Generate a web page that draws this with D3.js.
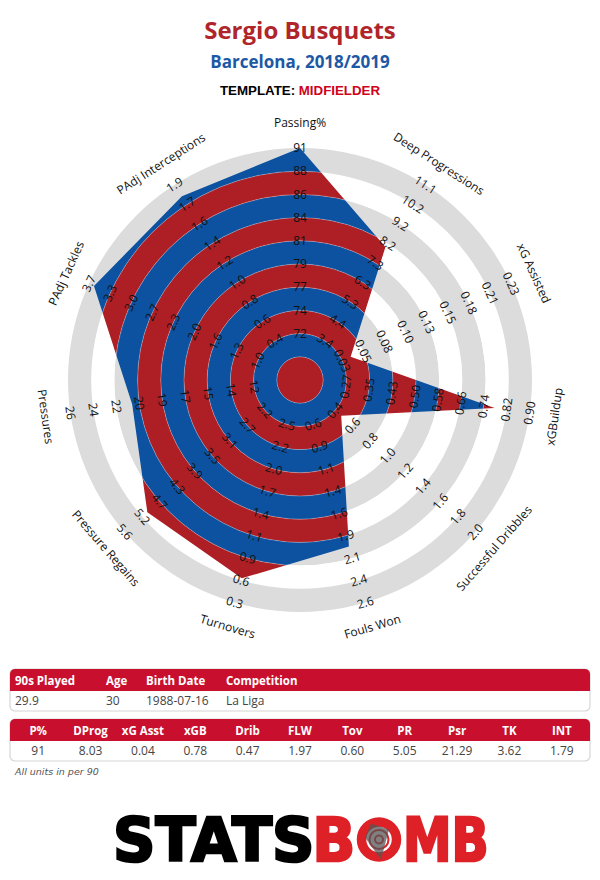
<!DOCTYPE html>
<html>
<head>
<meta charset="utf-8">
<script src="https://cdn.jsdelivr.net/npm/d3@7"></script>
<style>
  body { margin: 0; background: #fff; }
  svg { display: block; font-family: "Open Sans", sans-serif; }
</style>
</head>
<body>
<svg id="chart" width="600" height="880"></svg>
<script>
// radar metrics, clockwise from the top
var metrics = ["Passing%", "Deep Progressions", "xG Assisted", "xGBuildup", "Successful Dribbles",
  "Fouls Won", "Turnovers", "Pressure Regains", "Pressures", "PAdj Tackles", "PAdj Interceptions"];

// tick labels per metric, inner ring to outer ring
var tickLabels = [
  ["72", "74", "77", "79", "81", "84", "86", "88", "91"],
  ["3.4", "4.4", "5.3", "6.3", "7.3", "8.2", "9.2", "10.2", "11.1"],
  ["0.03", "0.05", "0.08", "0.10", "0.13", "0.15", "0.18", "0.21", "0.23"],
  ["0.27", "0.35", "0.43", "0.50", "0.58", "0.66", "0.74", "0.82", "0.90"],
  ["0.4", "0.6", "0.8", "1.0", "1.2", "1.4", "1.6", "1.8", "2.0"],
  ["0.6", "0.9", "1.1", "1.4", "1.6", "1.9", "2.1", "2.4", "2.6"],
  ["2.5", "2.2", "2.0", "1.7", "1.4", "1.1", "0.9", "0.6", "0.3"],
  ["2.2", "2.7", "3.1", "3.5", "3.9", "4.3", "4.7", "5.2", "5.6"],
  ["12", "14", "15", "17", "19", "20", "22", "24", "26"],
  ["1.0", "1.3", "1.6", "2.0", "2.3", "2.7", "3.0", "3.3", "3.7"],
  ["0.4", "0.6", "0.8", "1.0", "1.2", "1.4", "1.6", "1.7", "1.9"]
];

// table data
var infoHeaders = ["90s Played", "Age", "Birth Date", "Competition"];
var infoValues = ["29.9", "30", "1988-07-16", "La Liga"];
var statHeaders = ["P%", "DProg", "xG Asst", "xGB", "Drib", "FLW", "Tov", "PR", "Psr", "TK", "INT"];
var statValues = ["91", "8.03", "0.04", "0.78", "0.47", "1.97", "0.60", "5.05", "21.29", "3.62", "1.79"];

var red = "#ad1f24", blue = "#0c52a0", ringGrey = "#dcdcdc", tableRed = "#c8102e";

var svg = d3.select("#chart");

svg.append("rect").attr("width", 600).attr("height", 880).attr("fill", "white");

// titles
svg.append("text")
  .attr("x", 300).attr("y", 39)
  .attr("text-anchor", "middle")
  .style("font-size", "24px").style("font-weight", "bold")
  .style("fill", "#b0252a")
  .text("Sergio Busquets");

svg.append("text")
  .attr("x", 300).attr("y", 68)
  .attr("text-anchor", "middle")
  .style("font-size", "17px").style("font-weight", "bold")
  .style("fill", "#1d58a5")
  .text("Barcelona, 2018/2019");

var tmpl = svg.append("text")
  .attr("x", 300).attr("y", 95)
  .attr("text-anchor", "middle")
  .style("font-family", "'Liberation Sans', Arial, sans-serif")
  .style("font-size", "13.3px").style("font-weight", "bold");
tmpl.append("tspan").style("fill", "#000").text("TEMPLATE: ");
tmpl.append("tspan").style("fill", "#d0021b").text("MIDFIELDER");

//////////////////////////// radar ////////////////////////////
var cx = 300, cy = 380, band = 23.2, nRings = 10;
var step = 2 * Math.PI / metrics.length;

var scales = tickLabels.map(function(t) {
  return d3.scaleLinear()
    .domain([+t[0], +t[t.length - 1]])
    .range([2 * band, nRings * band]);
});

var radar = svg.append("g").attr("transform", "translate(" + cx + "," + cy + ")");

var ringArc = d3.arc()
  .innerRadius(function(k) { return (k - 1) * band; })
  .outerRadius(function(k) { return k * band; })
  .startAngle(0).endAngle(2 * Math.PI);

var rings = d3.range(1, nRings + 1);

// background rings
radar.append("g").selectAll("path")
  .data(rings)
  .enter().append("path")
  .attr("d", ringArc)
  .attr("fill", function(k) { return k % 2 === 0 ? ringGrey : "white"; });

// player polygon used as a clip
var radarLine = d3.lineRadial()
  .angle(function(d, i) { return i * step; })
  .radius(function(d, i) {
    var r = scales[i](+d);
    return Math.max(0, Math.min(nRings * band, r));
  })
  .curve(d3.curveLinearClosed);

svg.append("defs").append("clipPath")
  .attr("id", "playerClip")
  .append("path")
  .attr("d", radarLine(statValues));

var inner = radar.append("g").attr("clip-path", "url(#playerClip)");

inner.selectAll("path")
  .data(rings)
  .enter().append("path")
  .attr("d", ringArc)
  .attr("fill", function(k) { return k % 2 === 1 ? red : blue; });

inner.selectAll("circle")
  .data(rings)
  .enter().append("circle")
  .attr("r", function(k) { return k * band; })
  .attr("fill", "none")
  .attr("stroke", "rgba(255,255,255,0.35)")
  .attr("stroke-width", 0.8);

function rot(i) {
  var deg = i * 360 / metrics.length;
  if (deg > 90 && deg < 270) return deg - 180;
  return deg;
}
function px(i, r) { return r * Math.sin(i * step); }
function py(i, r) { return -r * Math.cos(i * step); }

// tick labels on each spoke
metrics.forEach(function(m, i) {
  radar.append("g").selectAll("text")
    .data(tickLabels[i])
    .enter().append("text")
    .attr("transform", function(d, j) {
      var r = (j + 2) * band;
      return "translate(" + px(i, r) + "," + py(i, r) + ") rotate(" + rot(i) + ")";
    })
    .attr("text-anchor", "middle")
    .attr("dy", "0.35em")
    .style("font-size", "12px")
    .style("fill", "#111")
    .text(function(d) { return d; });

  var rt = 257;
  radar.append("text")
    .attr("transform", "translate(" + px(i, rt) + "," + py(i, rt) + ") rotate(" + rot(i) + ")")
    .attr("text-anchor", "middle")
    .attr("dy", "0.35em")
    .style("font-size", "12px")
    .style("fill", "#111")
    .text(m);
});

//////////////////////////// tables ////////////////////////////
function tableBox(y, h) {
  var g = svg.append("g");
  g.append("rect")
    .attr("x", 10).attr("y", y).attr("width", 580).attr("height", h)
    .attr("rx", 5).attr("fill", "white")
    .attr("stroke", "#d6d6d6").attr("stroke-width", 1.2);
  var hp = "M10," + (y + 22) + "V" + (y + 5) + "a5,5 0 0 1 5,-5H585a5,5 0 0 1 5,5V" + (y + 22) + "Z";
  g.append("path").attr("d", hp).attr("fill", tableRed);
  return g;
}

var t1y = 669;
var t1 = tableBox(t1y, 42);
var infoX = [15, 106, 146, 226];
t1.selectAll("text.h").data(infoHeaders).enter().append("text")
  .attr("class", "h")
  .attr("x", function(d, i) { return infoX[i]; })
  .attr("y", t1y + 15.5)
  .style("font-size", "11.5px").style("font-weight", "bold").style("fill", "white")
  .text(function(d) { return d; });
t1.selectAll("text.v").data(infoValues).enter().append("text")
  .attr("class", "v")
  .attr("x", function(d, i) { return infoX[i]; })
  .attr("y", t1y + 36)
  .style("font-size", "12px").style("fill", "#444")
  .text(function(d) { return d; });

var t2y = 719;
var t2 = tableBox(t2y, 42);
var col = d3.scaleBand().domain(statHeaders).range([12, 588]);
t2.selectAll("text.h").data(statHeaders).enter().append("text")
  .attr("class", "h")
  .attr("x", function(d) { return col(d) + col.bandwidth() / 2; })
  .attr("y", t2y + 15.5)
  .attr("text-anchor", "middle")
  .style("font-size", "11.5px").style("font-weight", "bold").style("fill", "white")
  .text(function(d) { return d; });
t2.selectAll("text.v").data(statValues).enter().append("text")
  .attr("class", "v")
  .attr("x", function(d, i) { return col(statHeaders[i]) + col.bandwidth() / 2; })
  .attr("y", t2y + 36)
  .attr("text-anchor", "middle")
  .style("font-size", "12px").style("fill", "#444")
  .text(function(d) { return d; });

svg.append("text")
  .attr("x", 15).attr("y", 775)
  .style("font-family", "'DejaVu Sans', sans-serif")
  .style("font-size", "9.5px").style("font-style", "italic").style("fill", "#555")
  .text("All units in per 90");

//////////////////////////// logo ////////////////////////////
// heavy wordmark: DejaVu Sans Bold, squeezed with a horizontal scale
var logo = svg.append("g")
  .style("font-family", "'DejaVu Sans', sans-serif")
  .style("font-weight", "bold")
  .style("font-size", "61px")
  .style("stroke-width", 2.6)
  .style("stroke-linejoin", "miter");

function logoWord(txt, x, sx, color) {
  logo.append("text")
    .attr("transform", "translate(" + x + ",861) scale(" + sx + ",1)")
    .style("fill", color).style("stroke", color)
    .text(txt);
}
logoWord("STATS", 113, 0.965, "#000");
logoWord("B", 312.5, 0.92, "#de2027");
logoWord("MB", 403, 0.8, "#de2027");

var bomb = svg.append("g").attr("transform", "translate(379,839.5)");
bomb.append("circle").attr("r", 17.5).attr("fill", "none").attr("stroke", "#de2027").attr("stroke-width", 9.5);
bomb.append("circle").attr("r", 9.5).attr("fill", "none").attr("stroke", "#de2027").attr("stroke-width", 2);
bomb.append("circle").attr("r", 4).attr("fill", "none").attr("stroke", "#de2027").attr("stroke-width", 2);
bomb.append("path")
  .attr("d", "M-8,-16 L10,-10 L2,20 L-14,-2 Z")
  .attr("fill", "#555").attr("opacity", 0.75);
</script>
</body>
</html>
